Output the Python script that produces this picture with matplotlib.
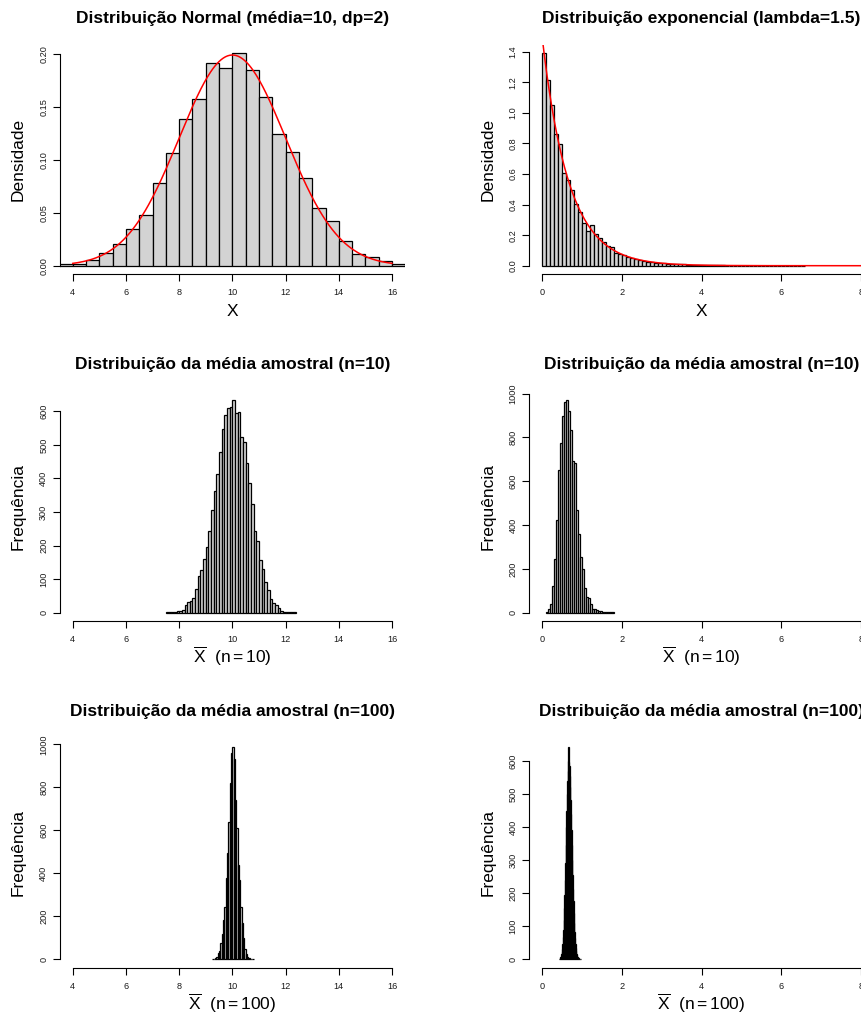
import numpy as np
import matplotlib.pyplot as plt
from matplotlib.transforms import offset_copy

plt.rcParams['font.family'] = ['Liberation Sans', 'DejaVu Sans']
plt.rcParams['mathtext.fontset'] = 'custom'
plt.rcParams['mathtext.rm'] = 'Liberation Sans'
plt.rcParams['mathtext.it'] = 'Liberation Sans:italic'

# parametros das distribuicoes (do titulo)
MEDIA, DP = 10, 2
LAMBDA = 1.5

# histograma da normal (densidade), classes de 0.5 a partir de 3.5
norm_inicio, norm_largura = 3.5, 0.5
norm_dens = [0.002, 0.002, 0.005, 0.012, 0.021, 0.035, 0.048, 0.078, 0.107, 0.139,
             0.158, 0.192, 0.187, 0.201, 0.185, 0.160, 0.125, 0.108, 0.083, 0.055,
             0.042, 0.023, 0.011, 0.008, 0.004, 0.002]

# histograma da exponencial (densidade), classes de 0.1 a partir de 0
exp_inicio, exp_largura = 0.0, 0.1
exp_dens = [1.389, 1.212, 1.049, 0.863, 0.798, 0.608, 0.558, 0.493, 0.405, 0.349,
            0.277, 0.230, 0.264, 0.205, 0.183, 0.155, 0.126, 0.120, 0.081, 0.078,
            0.070, 0.055, 0.052, 0.046, 0.035, 0.028, 0.024, 0.022, 0.020, 0.018,
            0.016, 0.014, 0.012, 0.011, 0.010, 0.008, 0.007, 0.006, 0.007, 0.004,
            0.004, 0.003, 0.002, 0.003, 0.002, 0.002, 0.001, 0.001, 0.001, 0.001,
            0.001, 0.0, 0.001, 0.0, 0.001, 0.0, 0.001, 0.0, 0.0, 0.001,
            0.0, 0.0, 0.001, 0.0, 0.0, 0.001]

# media amostral n=10, normal
n10_norm_inicio, n10_norm_largura = 7.5, 0.1
n10_norm_freq = [1, 1, 1, 2, 4, 5, 8, 22, 31, 36,
                 43, 70, 109, 127, 159, 196, 242, 306, 362, 414,
                 478, 546, 588, 609, 612, 633, 594, 597, 522, 507,
                 447, 385, 324, 244, 214, 157, 129, 91, 67, 40,
                 28, 22, 13, 6, 3, 2, 1, 1, 1]

# media amostral n=10, exponencial
n10_exp_inicio, n10_exp_largura = 0.10, 0.05
n10_exp_freq = [2, 15, 40, 122, 243, 425, 650, 775, 897, 962,
                970, 919, 836, 693, 684, 471, 359, 255, 198, 114,
                73, 68, 40, 18, 15, 12, 8, 6, 5, 3,
                3, 2, 1, 1]

# media amostral n=100, normal
n100_norm_inicio, n100_norm_largura = 9.25, 0.05
n100_norm_freq = [1, 2, 5, 12, 28, 40, 74, 116, 183, 245,
                  377, 493, 640, 818, 958, 989, 930, 740, 610, 440,
                  370, 245, 168, 100, 48, 24, 10, 5, 2, 1, 1]

# media amostral n=100, exponencial
n100_exp_inicio, n100_exp_largura = 0.43, 0.01
n100_exp_freq = [1, 2, 4, 6, 10, 15, 22, 32, 45, 66,
                 90, 118, 155, 195, 240, 292, 345, 400, 450, 500,
                 540, 570, 600, 643, 598, 585, 555, 520, 482, 440,
                 392, 345, 300, 255, 212, 175, 140, 110, 84, 63,
                 47, 34, 24, 17, 12, 8, 6, 4, 3, 2,
                 1, 1, 1, 0, 1]

xt_norm = [4, 6, 8, 10, 12, 14, 16]
xt_exp = [0, 2, 4, 6, 8]

W, H = 862, 1013
fig = plt.figure(figsize=(W / 100, H / 100), dpi=100)

linhas = [(44.9, 274.2), (391.7, 621.2), (738.2, 967.8)]
colunas = [(60.0, 404.8), (529.3, 873.8)]


def eixo(i, j):
    (y0, y1), (x0, x1) = linhas[i], colunas[j]
    return fig.add_axes([x0 / W, 1 - y1 / H, (x1 - x0) / W, (y1 - y0) / H])


def histograma(ax, inicio, largura, alturas, xticks, yticks, yfmt,
               titulo, xlab, ylab):
    bordas = inicio + largura * np.arange(len(alturas))
    ax.bar(bordas, alturas, width=largura, align='edge', color='lightgray',
           edgecolor='black', linewidth=0.9)
    topo = max(alturas)
    ax.set_ylim(-0.04 * topo, 1.04 * topo)
    amp = xticks[-1] - xticks[0]
    ax.set_xlim(xticks[0] - 0.04 * amp, xticks[-1] + 0.04 * amp)

    for s in ['top', 'right']:
        ax.spines[s].set_visible(False)
    ax.spines['left'].set_bounds(yticks[0], yticks[-1])
    ax.spines['bottom'].set_bounds(xticks[0], xticks[-1])
    for s in ['left', 'bottom']:
        ax.spines[s].set_linewidth(0.8)

    ax.set_xticks(xticks)
    ax.set_xticklabels([str(t) for t in xticks])
    ax.set_yticks(yticks)
    ax.set_yticklabels([yfmt.format(t) for t in yticks], rotation=90, va='center')
    ax.tick_params(direction='out', length=5, width=0.8, labelsize=6.6,
                   colors='black', labelcolor='#1a1a1a')
    ax.tick_params(axis='x', pad=5.0)
    ax.tick_params(axis='y', pad=3.5)

    ax.set_title(titulo, fontsize=12.5, fontweight='bold', pad=16)
    tr_x = offset_copy(ax.transAxes, fig=fig, y=-30.2, units='points')
    ax.text(0.5, 0, xlab, transform=tr_x, ha='center', va='baseline', fontsize=12.5)
    tr_y = offset_copy(ax.transAxes, fig=fig, x=-30.0, units='points')
    ax.text(0, 0.5, ylab, transform=tr_y, ha='center', va='center',
            rotation=90, fontsize=12.5)


ax1 = eixo(0, 0)
histograma(ax1, norm_inicio, norm_largura, norm_dens, xt_norm,
           [0, 0.05, 0.10, 0.15, 0.20], '{:.2f}',
           'Distribuição Normal (média=10, dp=2)', 'X', 'Densidade')
xs = np.linspace(4, 16, 300)
ax1.plot(xs, np.exp(-0.5 * ((xs - MEDIA) / DP) ** 2) / (DP * np.sqrt(2 * np.pi)),
         color='red', lw=1.1)

ax2 = eixo(0, 1)
histograma(ax2, exp_inicio, exp_largura, exp_dens, xt_exp,
           [0, 0.2, 0.4, 0.6, 0.8, 1.0, 1.2, 1.4], '{:.1f}',
           'Distribuição exponencial (lambda=1.5)', 'X', 'Densidade')
xe = np.linspace(0, 8.32, 400)
ax2.plot(xe, LAMBDA * np.exp(-LAMBDA * xe), color='red', lw=1.1)

xbar10 = r'$\overline{\mathrm{X}}\ \ (\mathrm{n}=10)$'
xbar100 = r'$\overline{\mathrm{X}}\ \ (\mathrm{n}=100)$'

ax3 = eixo(1, 0)
histograma(ax3, n10_norm_inicio, n10_norm_largura, n10_norm_freq, xt_norm,
           [0, 100, 200, 300, 400, 500, 600], '{:d}',
           'Distribuição da média amostral (n=10)', xbar10, 'Frequência')

ax4 = eixo(1, 1)
histograma(ax4, n10_exp_inicio, n10_exp_largura, n10_exp_freq, xt_exp,
           [0, 200, 400, 600, 800, 1000], '{:d}',
           'Distribuição da média amostral (n=10)', xbar10, 'Frequência')

ax5 = eixo(2, 0)
histograma(ax5, n100_norm_inicio, n100_norm_largura, n100_norm_freq, xt_norm,
           [0, 200, 400, 600, 800, 1000], '{:d}',
           'Distribuição da média amostral (n=100)', xbar100, 'Frequência')

ax6 = eixo(2, 1)
histograma(ax6, n100_exp_inicio, n100_exp_largura, n100_exp_freq, xt_exp,
           [0, 100, 200, 300, 400, 500, 600], '{:d}',
           'Distribuição da média amostral (n=100)', xbar100, 'Frequência')

fig.savefig('out.png', dpi=100)
